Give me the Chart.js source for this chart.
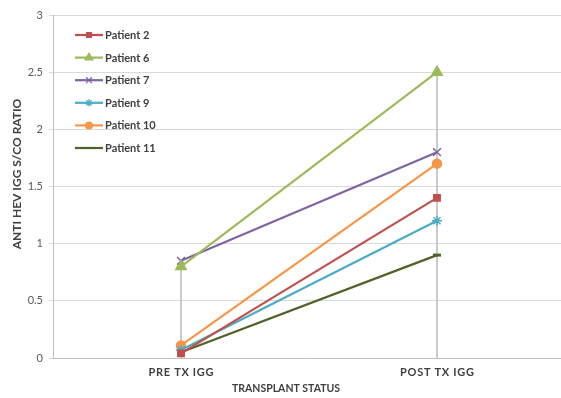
<!DOCTYPE html>
<html>
<head>
<meta charset="utf-8">
<script src="https://cdn.jsdelivr.net/npm/chart.js@4.4.1/dist/chart.umd.min.js"></script>
<style>
  html, body { margin: 0; padding: 0; background: #fff; overflow: hidden; }
  #chart { position: absolute; left: 0; top: 0; }
</style>
</head>
<body>
<canvas id="chart" width="565" height="398"></canvas>
<script>
const categories = ['PRE TX IGG', 'POST TX IGG'];
const patientNames = ['Patient 2', 'Patient 6', 'Patient 7', 'Patient 9', 'Patient 10', 'Patient 11'];
const patient2 = [0.04, 1.4];
const patient6 = [0.8, 2.5];
const patient7 = [0.85, 1.8];
const patient9 = [0.07, 1.2];
const patient10 = [0.11, 1.7];
const patient11 = [0.05, 0.9];
const yTicks = [0, 0.5, 1, 1.5, 2, 2.5, 3];
const xTitle = 'TRANSPLANT STATUS';
const yTitle = 'ANTI HEV IGG S/CO RATIO';

const seriesValues = [patient2, patient6, patient7, patient9, patient10, patient11];
const colors = ['#C0504D', '#9BBB59', '#8064A2', '#4BACC6', '#F79646', '#4F6228'];
const markers = [
    { pointStyle: 'rect', radius: 4.5 },
    { pointStyle: 'triangle', radius: 6 },
    { pointStyle: 'crossRot', radius: 5.5 },
    { pointStyle: 'star', radius: 5 },
    { pointStyle: 'circle', radius: 4.5 },
    { pointStyle: 'line', radius: 4 }
];
const FONT = 'Lato, "Liberation Sans", sans-serif';

// drop lines: from the highest point at each category down to the axis
const dropValues = categories.map((c, i) => Math.max(...seriesValues.map(s => s[i])));

const lineSets = seriesValues.map((vals, i) => ({
    type: 'line',
    label: patientNames[i],
    data: vals,
    borderColor: colors[i],
    backgroundColor: colors[i],
    borderWidth: 2.2,
    pointStyle: markers[i].pointStyle,
    pointRadius: markers[i].radius,
    pointBorderWidth: markers[i].pointStyle === 'line' ? 3 : 1.5,
    pointBackgroundColor: colors[i],
    pointBorderColor: colors[i],
    clip: false,
    order: 1
}));

const legendPlugin = {
    id: 'insideLegend',
    afterDraw(chart) {
        const ctx = chart.ctx;
        const x0 = 75, x1 = 103, y0 = 35, step = 22.6;
        ctx.save();
        ctx.font = 'bold 11px ' + FONT;
        ctx.textBaseline = 'middle';
        patientNames.forEach((name, i) => {
            const y = y0 + i * step;
            ctx.strokeStyle = colors[i];
            ctx.lineWidth = 2.2;
            ctx.beginPath();
            ctx.moveTo(x0, y);
            ctx.lineTo(x1, y);
            ctx.stroke();
            if (markers[i].pointStyle !== 'line') {
                ctx.fillStyle = colors[i];
                ctx.strokeStyle = colors[i];
                ctx.lineWidth = 1.2;
                Chart.helpers.drawPoint(ctx, {
                    pointStyle: markers[i].pointStyle,
                    radius: markers[i].radius * 0.75,
                    rotation: 0,
                    borderWidth: 1.2
                }, (x0 + x1) / 2, y);
            }
            ctx.fillStyle = '#404040';
            ctx.fillText(name, x1 + 2, y + 0.5);
        });

        // axis titles
        ctx.fillStyle = '#404040';
        ctx.font = 'bold 10.5px ' + FONT;
        ctx.textAlign = 'center';
        ctx.fillText(xTitle, 286, 389);
        ctx.translate(17, 174);
        ctx.rotate(-Math.PI / 2);
        ctx.font = 'bold 12px ' + FONT;
        ctx.fillText(yTitle, 0, 0);
        ctx.restore();
    }
};

new Chart(document.getElementById('chart'), {
    data: {
        labels: categories,
        datasets: [
            ...lineSets,
            {
                type: 'bar',
                label: 'drop',
                data: dropValues,
                backgroundColor: '#BFBFBF',
                barThickness: 1,
                order: 5
            }
        ]
    },
    options: {
        responsive: false,
        animation: false,
        layout: { autoPadding: false, padding: { top: 15, right: 0, left: 0, bottom: 0 } },
        plugins: {
            legend: { display: false },
            tooltip: { enabled: false }
        },
        scales: {
            x: {
                offset: true,
                grid: { display: false, drawTicks: false },
                border: { display: true, color: '#BFBFBF', width: 1 },
                ticks: {
                    color: '#404040',
                    font: { family: FONT, size: 11, weight: 'bold' },
                    padding: 8,
                    callback: (v, i) => categories[i].split('').join('\u200A')
                },
                afterFit: s => { s.height = 40; }
            },
            y: {
                min: 0,
                max: 3,
                afterBuildTicks: s => { s.ticks = yTicks.map(v => ({ value: v })); },
                grid: { color: '#D9D9D9', tickLength: 4, drawTicks: true },
                border: { display: true, color: '#BFBFBF' },
                ticks: {
                    color: '#595959',
                    font: { family: FONT, size: 11 },
                    padding: 6,
                    callback: v => String(v)
                },
                afterFit: s => { s.width = 53; }
            }
        }
    },
    plugins: [legendPlugin]
});
</script>
</body>
</html>
